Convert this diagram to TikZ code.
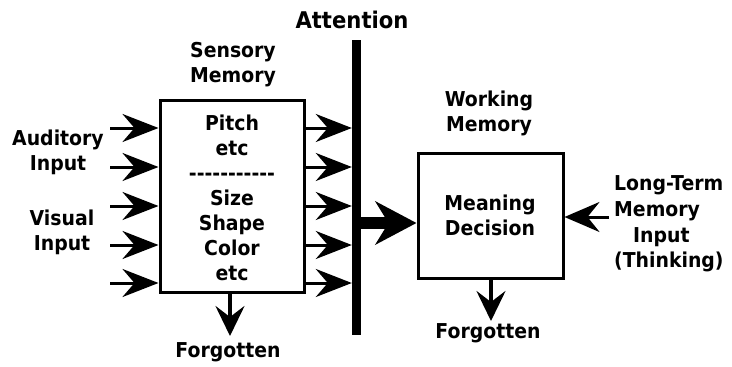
\documentclass[tikz,border=0pt]{standalone}
\usepackage{fontspec}
\setmainfont{DejaVu Sans}[FakeStretch=0.92]
\usetikzlibrary{arrows.meta}
\begin{document}
\begin{tikzpicture}[x=1pt,y=-1pt,
  txt/.style={font=\fontsize{20.5}{25}\selectfont\bfseries, align=center, inner sep=0pt},
  boxx/.style={draw, line width=3pt, inner sep=0pt},
  arr/.style={line width=3pt, -{Stealth[length=36pt,width=28pt,inset=12pt]}},
  darr/.style={line width=3.5pt, -{Stealth[length=30pt,width=29pt,inset=11pt]}},
  bigarr/.style={line width=12pt, -{Stealth[length=41pt,width=43pt,inset=13pt]}}
]
\useasboundingbox (0,0) rectangle (732,367);
% boxes
\node[boxx, minimum width=144pt, minimum height=192pt] (sens) at (232,196) {};
\node[txt] (senstxt) at (232,197.5) {Pitch\\etc\\{-}{-}{-}{-}{-}{-}{-}{-}{-}{-}{-}\\Size\\Shape\\Color\\etc};
\node[boxx, minimum width=145pt, minimum height=125pt] (work) at (490.5,215.5) {};
\node[txt] (worktxt) at (490,215.5) {Meaning\\Decision};
% attention bar
\node[fill=black, inner sep=0pt, minimum width=9pt, minimum height=295pt] (att) at (356.5,187.5) {};
% labels
\node[txt, font=\fontsize{23}{25}\selectfont\bfseries] (attl) at (352,19.5) {Attention};
\node[txt] (sensl) at (233,64.5) {Sensory\\Memory};
\node[txt] (workl) at (489,113.5) {Working\\Memory};
\node[txt] (aud) at (58,152.5) {Auditory\\Input};
\node[txt] (vis) at (62,232.5) {Visual\\Input};
\node[txt, align=left, anchor=west, font=\fontsize{20.5}{25.7}\selectfont\bfseries] (ltm) at (614,224) {Long-Term\\Memory\\\hspace*{19pt}Input\\(Thinking)};
\node[txt] (forg1) at (228,352) {Forgotten};
\node[txt] (forg2) at (488,333) {Forgotten};
% input and output arrows
\foreach \y [count=\i] in {128,167,206,245,283}{
  \coordinate (in\i) at (110,\y);
  \draw[arr] (in\i) -- (in\i -| sens.west);
  \coordinate (out\i) at (sens.east |- in\i);
  \draw[arr] (out\i) -- (out\i -| att.west);
}
% big arrow
\coordinate (bigs) at (att.east |- 0,223);
\draw[bigarr] (bigs) -- (bigs -| work.west);
% long term arrow
\coordinate (lt) at (609,217);
\draw[arr, -{Stealth[length=35pt,width=30pt,inset=12pt]}] (lt) -- (lt -| work.east);
% forgotten arrows
\coordinate (f1) at (230,336);
\draw[darr] (f1 |- sens.south) -- (f1);
\coordinate (f2) at (491,321);
\draw[darr] (f2 |- work.south) -- (f2);
\end{tikzpicture}
\end{document}
